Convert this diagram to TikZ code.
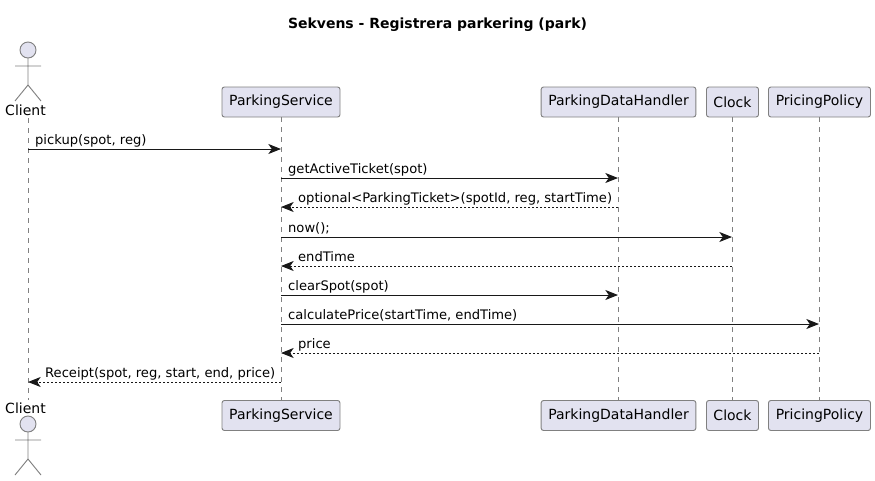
\documentclass[tikz,border=0pt]{standalone}
\usepackage{fontspec}
\setmainfont{DejaVu Sans}
\usetikzlibrary{arrows.meta,positioning}
\definecolor{boxfill}{HTML}{E2E2F0}
\definecolor{boxline}{HTML}{181818}

\begin{document}
\begin{tikzpicture}[x=0.75pt,y=-0.75pt]
  \tikzset{ part/.style={draw=boxline!55,fill=boxfill,line width=0.7pt,rounded corners=1.8pt,inner sep=0pt,minimum height=22.5pt,font=\fontsize{10.5}{12}\selectfont},
    who/.style={inner sep=0pt,text height=9.75pt,text depth=2.25pt,font=\fontsize{10.5}{12}\selectfont},
    life/.style={draw=boxline!55,line width=0.4pt,dash pattern=on 3.75pt off 3.75pt},
    call/.style={draw=boxline,line width=0.75pt,-{Stealth[length=9.5pt,width=7.5pt,inset=2.6pt]}},
    back/.style={call,dash pattern=on 1.5pt off 1.5pt},
    txt/.style={inner sep=0pt,anchor=base west,yshift=3.4pt,font=\fontsize{9.83}{12}\selectfont},
    actorman/.pic={
      \draw[draw=boxline!55,fill=boxfill,line width=0.7pt] (0,0) circle (6pt);
      \draw[draw=boxline!55,line width=0.7pt] (0,8) -- (0,35) (-13,16) -- (13,16) (-13,51) -- (0,35) -- (13,51);
    },
  }
  \useasboundingbox (0,0) rectangle (875,480);
  \node[font=\bfseries\fontsize{10.5}{13}\selectfont,inner sep=0pt] (title) at (437.5,24.5) {Sekvens - Registrera parkering (park)};

  % the top row
  \pic at (28,50) {actorman};
  \node[who,anchor=base] (client) at (25.5,115) {Client};
  \node[part,minimum width=88.5pt] (service) at (281,102) {ParkingService};
  \node[part,minimum width=116pt] (data) at (618.5,102) {ParkingDataHandler};
  \node[part,minimum width=39pt] (clock) at (732.5,102) {Clock};
  \node[part,minimum width=76.5pt] (policy) at (819.5,102) {PricingPolicy};

  % the bottom row
  \pic at (28,424) {actorman};
  \node[who,anchor=base] (client2) at (25.5,413) {Client};
  \node[part,minimum width=88.5pt] (service2) at (281,415.5) {ParkingService};
  \node[part,minimum width=116pt] (data2) at (618.5,415.5) {ParkingDataHandler};
  \node[part,minimum width=39pt] (clock2) at (732.5,415.5) {Clock};
  \node[part,minimum width=76.5pt] (policy2) at (819.5,415.5) {PricingPolicy};

  % the life lines
  \coordinate (clientend) at (28,118);
  \coordinate (clientend2) at (28,400);
  \foreach \a/\b in {clientend/clientend2,service/service2,data/data2,clock/clock2,policy/policy2}
    \draw[life] (\a) -- (\b);

  % the message ends on the life lines
  \coordinate (c1) at (28,149);
  \coordinate (s1) at (281,149);
  \coordinate (s2) at (281,178);
  \coordinate (d2) at (618,178);
  \coordinate (d3) at (618,207);
  \coordinate (s3) at (281,207);
  \coordinate (s4) at (281,237);
  \coordinate (k4) at (732,237);
  \coordinate (k5) at (732,266);
  \coordinate (s5) at (281,266);
  \coordinate (s6) at (281,295);
  \coordinate (d6) at (618,295);
  \coordinate (s7) at (281,324);
  \coordinate (p7) at (819,324);
  \coordinate (p8) at (819,353);
  \coordinate (s8) at (281,353);
  \coordinate (s9) at (281,382);
  \coordinate (c9) at (28,382);

  % the messages
  \draw[call] (c1) -- (s1) node[txt,at start,xshift=5pt] {pickup(spot, reg)};
  \draw[call] (s2) -- (d2) node[txt,at start,xshift=5pt] {getActiveTicket(spot)};
  \draw[back] (d3) -- (s3) node[txt,at end,xshift=12.5pt] {optional<ParkingTicket>(spotId, reg, startTime)};
  \draw[call] (s4) -- (k4) node[txt,at start,xshift=5pt] {now();};
  \draw[back] (k5) -- (s5) node[txt,at end,xshift=12.5pt] {endTime};
  \draw[call] (s6) -- (d6) node[txt,at start,xshift=5pt] {clearSpot(spot)};
  \draw[call] (s7) -- (p7) node[txt,at start,xshift=5pt] {calculatePrice(startTime, endTime)};
  \draw[back] (p8) -- (s8) node[txt,at end,xshift=12.5pt] {price};
  \draw[back] (s9) -- (c9) node[txt,at end,xshift=12.5pt] {Receipt(spot, reg, start, end, price)};
\end{tikzpicture}
\end{document}
